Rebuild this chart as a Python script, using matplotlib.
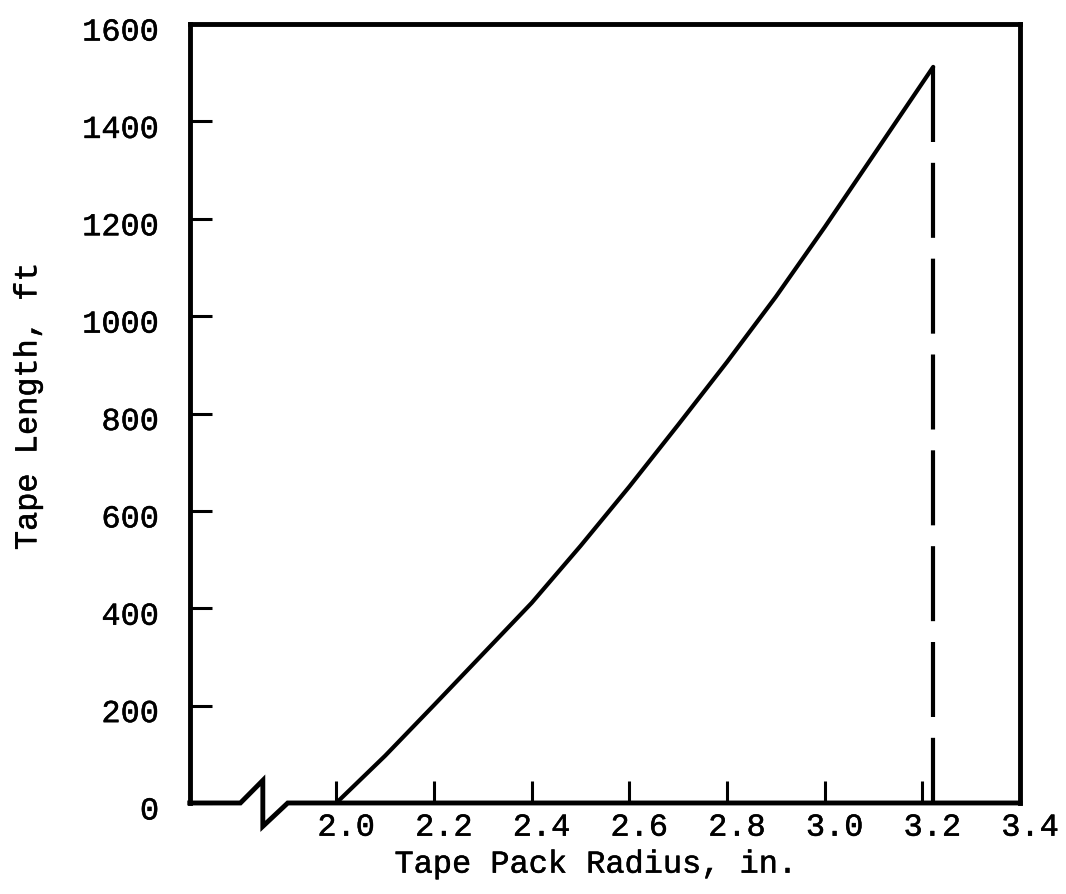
import numpy as np
import matplotlib
matplotlib.use('Agg')
import matplotlib.pyplot as plt
import matplotlib.patheffects as pe
from matplotlib.transforms import ScaledTranslation

# values
radius = [2.0, 2.1, 2.2, 2.3, 2.4, 2.5, 2.6, 2.7, 2.8, 2.9, 3.0, 3.1, 3.222]
length = [0, 97, 201, 306, 411, 528, 650, 777, 906, 1040, 1183, 1331, 1512]

xticks = [2.0, 2.2, 2.4, 2.6, 2.8, 3.0, 3.2, 3.4]
yticks = [0, 200, 400, 600, 800, 1000, 1200, 1400, 1600]

plt.rcParams['font.family'] = ['Liberation Mono', 'DejaVu Sans Mono']
# typewriter text is a bit heavier than Liberation Mono regular
heavy = [pe.withStroke(linewidth=0.35, foreground='black')]

fig = plt.figure(figsize=(10.66, 8.95), dpi=100)
ax = fig.add_axes([0.178, 0.1017, 0.779, 0.8703])

ax.plot(radius, length, color='black', lw=3.0, solid_capstyle='round',
        solid_joinstyle='round')
# end of reel marker
ax.plot([radius[-1], radius[-1]], [length[-1], 0], color='black', lw=3.0,
        dashes=(18, 5), dash_capstyle='butt')

ax.set_xlim(1.70, 3.4)
ax.set_ylim(0, 1600)

ax.set_xticks(xticks)
ax.set_xticklabels(['%.1f' % v for v in xticks])
ax.set_yticks(yticks)
ax.set_yticklabels([str(v) for v in yticks])

ax.tick_params(direction='in', length=16, width=2.2, labelsize=23, colors='black')
ax.tick_params(axis='x', pad=7)
ax.tick_params(axis='y', pad=22)

# labels sit a little off their ticks in the original
for lab in ax.get_xticklabels():
    lab.set_transform(lab.get_transform() + ScaledTranslation(0.10, 0, fig.dpi_scale_trans))
    lab.set_path_effects(heavy)
for lab in ax.get_yticklabels():
    lab.set_transform(lab.get_transform() + ScaledTranslation(0, -0.05, fig.dpi_scale_trans))
    lab.set_path_effects(heavy)

for side in ['left', 'top', 'right']:
    ax.spines[side].set_linewidth(3.5)
ax.spines['bottom'].set_visible(False)

# bottom axis with the break symbol
bx = [0.0, 0.061, 0.088, 0.088, 0.118, 1.0]
by = [0.0, 0.0, 0.029, -0.030, 0.0, 0.0]
ax.plot(bx, by, transform=ax.transAxes, color='black', lw=3.5,
        clip_on=False, solid_joinstyle='miter', solid_capstyle='projecting')

xl = ax.set_xlabel('Tape Pack Radius, in.', fontsize=23, labelpad=5)
yl = ax.set_ylabel('Tape Length, ft', fontsize=23, labelpad=28)
xl.set_x(0.49)
yl.set_y(0.51)
xl.set_path_effects(heavy)
yl.set_path_effects(heavy)

fig.savefig('out.png', dpi=100)
